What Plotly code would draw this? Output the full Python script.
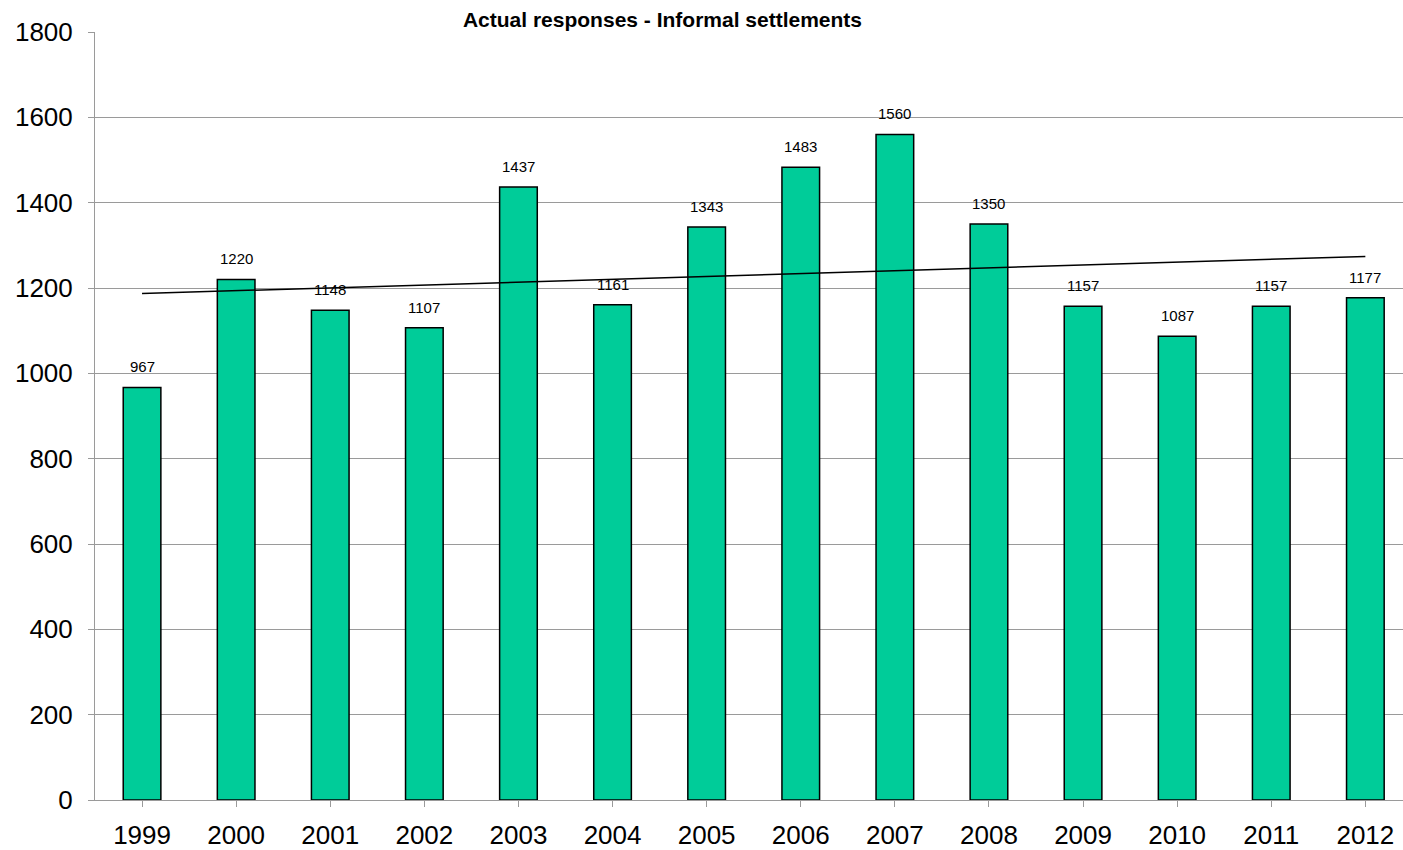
import plotly.graph_objects as go

years = ["1999", "2000", "2001", "2002", "2003", "2004", "2005", "2006",
         "2007", "2008", "2009", "2010", "2011", "2012"]
responses = [967, 1220, 1148, 1107, 1437, 1161, 1343, 1483, 1560, 1350,
             1157, 1087, 1157, 1177]
y_ticks = [0, 200, 400, 600, 800, 1000, 1200, 1400, 1600, 1800]
# linear trendline as drawn in the reference (value at first and last year)
trend_years = ["1999", "2012"]
trend_values = [1187, 1274]

FONT = "Arial, 'Liberation Sans', sans-serif"
BAR = "#00CC99"
GRID = "#9a9a9a"

idx = list(range(len(years)))
trend_idx = [years.index(y) for y in trend_years]

fig = go.Figure()
fig.add_trace(go.Bar(
    x=idx, y=responses, marker=dict(color=BAR, line=dict(color="black", width=1.5)),
    width=0.4, showlegend=False, hoverinfo="x+y"))
fig.add_trace(go.Scatter(
    x=trend_idx, y=trend_values, mode="lines",
    line=dict(color="black", width=1.5), showlegend=False))

for i, v in zip(idx, responses):
    fig.add_annotation(x=i, y=v, text=str(v), showarrow=False, yanchor="bottom",
                       yshift=10, font=dict(family=FONT, size=15, color="black"))

fig.update_layout(
    width=1403, height=850, paper_bgcolor="white", plot_bgcolor="white",
    margin=dict(l=95, r=0, t=32, b=46),
    title=dict(text="<b>Actual responses - Informal settlements</b>", x=0.4722,
               xanchor="center", xref="container", y=0.977, yanchor="middle",
               yref="container", font=dict(family=FONT, size=21, color="black")),
    font=dict(family=FONT, color="black"),
    bargap=0.6,
)
fig.update_xaxes(
    tickmode="array", tickvals=idx, ticktext=years, range=[-0.5, 13.4],
    tickson="boundaries", ticks="outside", ticklen=6, tickcolor=GRID,
    showline=True, linecolor=GRID, linewidth=1, showgrid=False,
    ticklabelstandoff=6,
    tickfont=dict(family=FONT, size=26, color="black"), zeroline=False)
fig.update_yaxes(
    range=[0, 1800], tickvals=y_ticks, ticks="outside", ticklen=6, tickcolor=GRID,
    showline=True, linecolor=GRID, linewidth=1, showgrid=True, gridcolor=GRID,
    gridwidth=1, ticklabelstandoff=10,
    tickfont=dict(family=FONT, size=26, color="black"), zeroline=False)

fig.write_html("out.html", config={"displayModeBar": False},
               post_script="document.body.style.margin='0';document.body.style.overflow='hidden';")
